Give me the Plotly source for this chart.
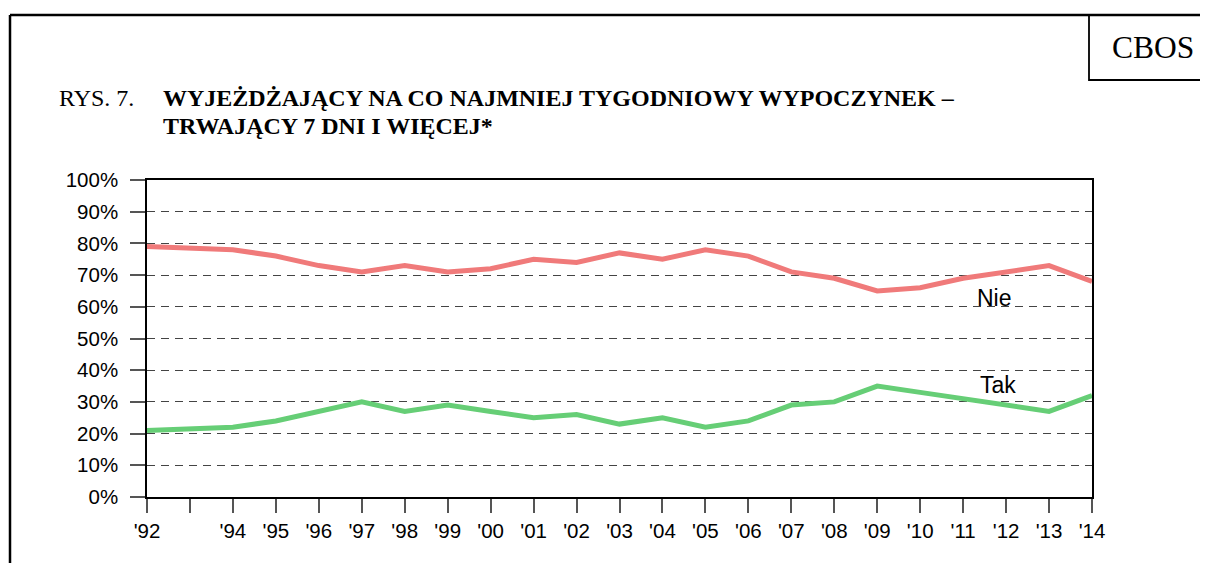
import plotly.graph_objects as go

years = [1992, 1994, 1995, 1996, 1997, 1998, 1999, 2000, 2001, 2002, 2003,
         2004, 2005, 2006, 2007, 2008, 2009, 2010, 2011, 2012, 2013, 2014]
nie = [79, 78, 76, 73, 71, 73, 71, 72, 75, 74, 77, 75, 78, 76, 71, 69, 65, 66, 69, 71, 73, 68]
tak = [21, 22, 24, 27, 30, 27, 29, 27, 25, 26, 23, 25, 22, 24, 29, 30, 35, 33, 31, 29, 27, 32]

tick_years = list(range(1992, 2015))
tick_text = ["'92", "", "'94", "'95", "'96", "'97", "'98", "'99", "'00", "'01", "'02", "'03",
             "'04", "'05", "'06", "'07", "'08", "'09", "'10", "'11", "'12", "'13", "'14"]
y_ticks = [0, 10, 20, 30, 40, 50, 60, 70, 80, 90, 100]
y_text = [f"{v}%" for v in y_ticks]

W, H = 1208, 563
OFF = 8  # page body margin
L, R, T, B = 147, 1092, 180, 497  # plot area in screen pixels
pw, ph = R - L, B - T

def px(x):
    return (x - L) / pw

def py(y):
    return (B - y) / ph

fig = go.Figure()
fig.add_trace(go.Scatter(x=years, y=nie, mode="lines", name="Nie",
                         line=dict(color="rgb(240,122,122)", width=5), cliponaxis=False))
fig.add_trace(go.Scatter(x=years, y=tak, mode="lines", name="Tak",
                         line=dict(color="rgb(102,206,118)", width=5), cliponaxis=False))

fig.update_layout(
    width=W, height=H,
    margin=dict(l=L - OFF, r=W - (R - OFF), t=T - OFF, b=H - (B - OFF), pad=0),
    paper_bgcolor="white", plot_bgcolor="white",
    showlegend=False,
    font=dict(family="Liberation Sans, Arial, sans-serif", size=20.5, color="black"),
)
fig.update_xaxes(
    range=[1992, 2014], tickvals=tick_years, ticktext=tick_text,
    showgrid=False, zeroline=False,
    showline=True, linecolor="black", linewidth=1.5, mirror=True,
    ticks="outside", ticklen=14, tickcolor="#555", tickwidth=1.5,
    tickfont=dict(size=20.5), ticklabelstandoff=1,
)
fig.update_yaxes(
    range=[0, 100], tickvals=y_ticks, ticktext=y_text,
    showgrid=True, gridcolor="#444", griddash="8px,6px", gridwidth=1.3,
    zeroline=False,
    showline=True, linecolor="black", linewidth=1.5, mirror=True,
    ticks="outside", ticklen=15, tickcolor="#555", tickwidth=1.5,
    tickfont=dict(size=20.5), ticklabelstandoff=8,
)

shapes = [
    dict(type="line", xref="paper", yref="paper", x0=px(10), x1=px(1215), y0=py(15), y1=py(15),
         line=dict(color="black", width=2.5)),
    dict(type="line", xref="paper", yref="paper", x0=px(10), x1=px(10), y0=py(15), y1=py(575),
         line=dict(color="black", width=2.5)),
    dict(type="rect", xref="paper", yref="paper", x0=px(1089), x1=px(1225), y0=py(80), y1=py(15),
         line=dict(color="black", width=1.8)),
]
fig.update_layout(shapes=shapes)

serif = "Liberation Serif, Times New Roman, serif"
ann = [
    dict(text="CBOS", x=px(1153), y=py(48), font=dict(family=serif, size=31.5)),
    dict(text="RYS. 7.", x=px(57), y=py(98), xanchor="left", font=dict(family=serif, size=24)),
    dict(text="<b>WYJEŻDŻAJĄCY NA CO NAJMNIEJ TYGODNIOWY WYPOCZYNEK –</b>", x=px(161), y=py(98),
         xanchor="left", font=dict(family=serif, size=24)),
    dict(text="<b>TRWAJĄCY 7 DNI I WIĘCEJ*</b>", x=px(161), y=py(126),
         xanchor="left", font=dict(family=serif, size=24)),
    dict(text="Nie", x=px(994), y=py(298), font=dict(size=23)),
    dict(text="Tak", x=px(998), y=py(385), font=dict(size=23)),
]
for a in ann:
    a.setdefault("xanchor", "center")
    fig.add_annotation(xref="paper", yref="paper", showarrow=False, yanchor="middle", **a)

fig.write_html("out.html")
